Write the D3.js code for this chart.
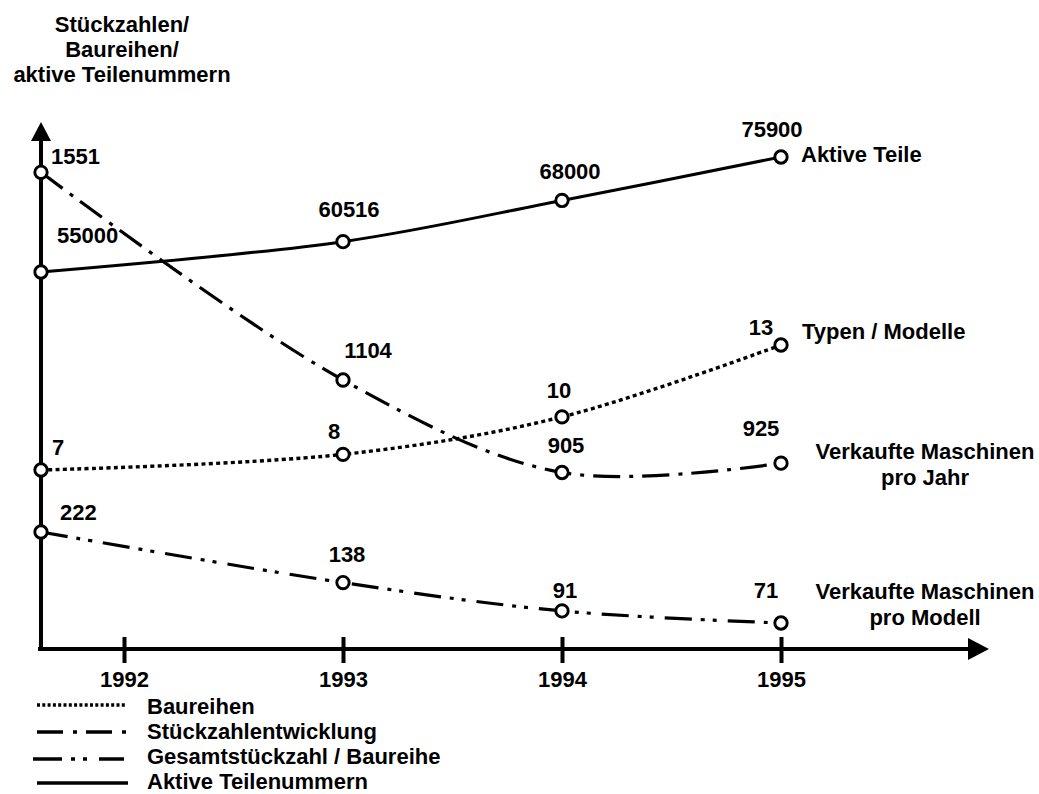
<!DOCTYPE html>
<html>
<head>
<meta charset="utf-8">
<script src="https://cdn.jsdelivr.net/npm/d3@7"></script>
<style>
  html, body { margin: 0; padding: 0; background: #fff; }
  svg { display: block; font-family: "Liberation Sans", Arial, sans-serif; font-weight: bold; }
</style>
</head>
<body>
<svg id="chart" width="1039" height="794"></svg>
<script>
// ---------------- data ----------------
const years = [1992, 1993, 1994, 1995];
const tickLabels = ["1992", "1993", "1994", "1995"];
const aktiveTeile = [55000, 60516, 68000, 75900];       // Aktive Teilenummern
const stueckzahlen = [1551, 1104, 905, 925];            // Stückzahlentwicklung
const baureihen = [7, 8, 10, 13];                       // Baureihen
const gesamtProBaureihe = [222, 138, 91, 71];           // Gesamtstückzahl / Baureihe
const titleLines = ["Stückzahlen/", "Baureihen/", "aktive Teilenummern"];
const legendLabels = ["Baureihen", "Stückzahlentwicklung", "Gesamtstückzahl / Baureihe", "Aktive Teilenummern"];

// ---------------- layout ----------------
const svg = d3.select("#chart");
const originX = 41, originY = 649, axisTop = 124, axisRight = 989;
const x = d3.scaleLinear().domain([1992, 1995]).range([124, 781]);
// first values are drawn on the vertical axis
const px = (i) => i === 0 ? originX : x(years[i]);

const series = [
  { name: "aktive", values: aktiveTeile,
    y: d3.scaleLinear().domain([55000, 75900]).range([272, 157]),
    dash: null, width: 3,
    labelOff: [[16, -29, "start"], [6, -25, "middle"], [8, -21, "middle"], [-9, -20, "middle"]],
    endLabel: { lines: ["Aktive Teile"], dx: 20, dy: 5, anchor: "start" } },
  { name: "stueck", values: stueckzahlen,
    y: d3.scaleLinear().domain([905, 1551]).range([472.5, 172.3]),
    dash: "27,9,4,9", width: 3.2,
    labelOff: [[10, -8, "start"], [25, -22, "middle"], [4, -20, "middle"], [-20, -27, "middle"]],
    endLabel: { lines: ["Verkaufte Maschinen", "pro Jahr"], dx: 144, dy: -4, anchor: "middle" } },
  { name: "baureihen", values: baureihen,
    y: d3.scalePow().exponent(2).domain([7, 13]).range([470, 345]),
    dash: "4,3.3", width: 3.4,
    labelOff: [[11, -15, "start"], [-9, -15, "middle"], [-3, -19, "middle"], [-20, -10, "middle"]],
    endLabel: { lines: ["Typen / Modelle"], dx: 21, dy: -6, anchor: "start" } },
  { name: "gesamt", values: gesamtProBaureihe,
    y: d3.scaleLinear().domain([71, 222]).range([623, 532]),
    dash: "27,9,4,8,4,11", width: 3.2,
    labelOff: [[19, -12, "start"], [4, -21, "middle"], [3, -13, "middle"], [-15, -25, "middle"]],
    endLabel: { lines: ["Verkaufte Maschinen", "pro Modell"], dx: 144, dy: -24, anchor: "middle" } }
];

const FS = 22;

// ---------------- title ----------------
svg.append("g").selectAll("text").data(titleLines).join("text")
  .attr("x", 122).attr("y", (d, i) => 32 + i * 25)
  .attr("text-anchor", "middle").attr("font-size", FS).text(d => d);

// ---------------- axes ----------------
const axes = svg.append("g");
axes.append("line").attr("x1", originX).attr("x2", originX)
  .attr("y1", axisTop + 14).attr("y2", originY + 2)
  .attr("stroke", "#000").attr("stroke-width", 4);
axes.append("path")
  .attr("d", `M${originX},${axisTop - 2} L${originX - 10},${axisTop + 17} L${originX + 10},${axisTop + 17} Z`)
  .attr("fill", "#000");
axes.append("line").attr("x1", originX - 3).attr("x2", axisRight - 18)
  .attr("y1", originY).attr("y2", originY)
  .attr("stroke", "#000").attr("stroke-width", 4);
axes.append("path")
  .attr("d", `M${axisRight},${originY} L${axisRight - 21},${originY - 11} L${axisRight - 21},${originY + 11} Z`)
  .attr("fill", "#000");

const xAxis = d3.axisBottom(x).tickValues(years).tickFormat((d, i) => tickLabels[i]).tickSize(0);
const gx = svg.append("g").attr("transform", `translate(0,${originY})`).call(xAxis);
gx.select(".domain").remove();
gx.selectAll(".tick line").attr("y1", -12).attr("y2", 14).attr("stroke", "#000").attr("stroke-width", 4);
gx.selectAll(".tick text").attr("y", 38).attr("dy", 0).attr("font-size", FS)
  .attr("font-family", "Liberation Sans, Arial, sans-serif").attr("font-weight", "bold").attr("fill", "#000");

// ---------------- series ----------------
const line = d3.line().curve(d3.curveCatmullRom.alpha(0.5));
series.forEach(s => {
  const pts = s.values.map((v, i) => [px(i), s.y(v)]);
  const g = svg.append("g").attr("class", "series-" + s.name);
  g.append("path").attr("d", line(pts)).attr("fill", "none")
    .attr("stroke", "#000").attr("stroke-width", s.width)
    .attr("stroke-dasharray", s.dash);
  g.selectAll("circle").data(pts).join("circle")
    .attr("cx", d => d[0]).attr("cy", d => d[1]).attr("r", 6.2)
    .attr("fill", "#fff").attr("stroke", "#000").attr("stroke-width", 2.9);
  g.selectAll("text.val").data(s.values).join("text").attr("class", "val")
    .attr("x", (d, i) => pts[i][0] + s.labelOff[i][0])
    .attr("y", (d, i) => pts[i][1] + s.labelOff[i][1])
    .attr("text-anchor", (d, i) => s.labelOff[i][2])
    .attr("font-size", FS).text(d => d);
  const last = pts[pts.length - 1];
  g.selectAll("text.end").data(s.endLabel.lines).join("text").attr("class", "end")
    .attr("x", last[0] + s.endLabel.dx)
    .attr("y", (d, i) => last[1] + s.endLabel.dy + i * 26)
    .attr("text-anchor", s.endLabel.anchor)
    .attr("font-size", FS).text(d => d);
});

// ---------------- legend ----------------
const legendStyles = [
  { dash: "3,2.3", width: 3.4, y: 705, x1: 37, x2: 127 },
  { dash: "26,10,4,9", width: 3.6, y: 732, x1: 37, x2: 127 },
  { dash: "29,9,4,8,4,12", width: 3.6, y: 759, x1: 33, x2: 124 },
  { dash: null, width: 3.6, y: 783, x1: 37, x2: 128 }
];
const lg = svg.append("g");
legendLabels.forEach((lab, i) => {
  const st = legendStyles[i];
  lg.append("line").attr("x1", st.x1).attr("x2", st.x2).attr("y1", st.y).attr("y2", st.y)
    .attr("stroke", "#000").attr("stroke-width", st.width).attr("stroke-dasharray", st.dash);
  lg.append("text").attr("x", 147).attr("y", 714 + i * 25)
    .attr("font-size", FS).text(lab);
});
</script>
</body>
</html>
